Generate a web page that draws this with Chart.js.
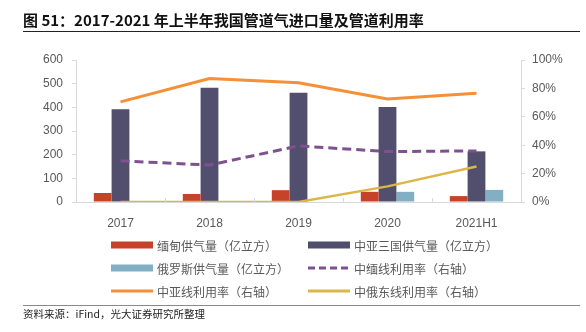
<!DOCTYPE html>
<html>
<head>
<meta charset="utf-8">
<script src="https://cdn.jsdelivr.net/npm/chart.js@4/dist/chart.umd.min.js"></script>
<style>
  html, body { margin: 0; padding: 0; background: #fff; }
  #wrap { position: relative; width: 586px; height: 332px; overflow: hidden;
          font-family: "Noto Sans CJK SC", "Noto Sans", sans-serif; }
  #chart { position: absolute; left: 0; top: 0; }
  #title { position: absolute; left: 23px; top: 10px; font-size: 15px; font-weight: bold;
           color: #111; white-space: nowrap; line-height: 20px; }
  #titleRule { position: absolute; left: 23px; top: 31px; width: 557px; height: 0;
               border-top: 1.5px solid #222; }
  #legend { position: absolute; left: 0; top: 0; width: 586px; height: 332px; pointer-events: none; }
  .item { position: absolute; display: flex; align-items: center; white-space: nowrap;
          font-size: 12px; color: #595959; height: 16px; }
  .item canvas { margin-right: 4px; }
  #srcRule { position: absolute; left: 23px; top: 305px; width: 557px; height: 0;
             border-top: 1.5px solid #8a8a8a; }
  #source { position: absolute; left: 23px; top: 306px; font-size: 10.5px; color: #222;
            white-space: nowrap; line-height: 16px; }
</style>
</head>
<body>
<div id="wrap">
  <canvas id="chart" width="586" height="332"></canvas>
  <div id="title">图 51：2017-2021 年上半年我国管道气进口量及管道利用率</div>
  <div id="titleRule"></div>
  <div id="legend"></div>
  <div id="srcRule"></div>
  <div id="source">资料来源：iFind，光大证券研究所整理</div>
</div>
<script>
// Categories and series (volumes in 亿立方, utilisation rates in %)
const categories = ['2017', '2018', '2019', '2020', '2021H1'];
const myanmarSupply = [38, 34, 50, 43, 25];
const centralAsiaSupply = [392, 483, 462, 401, 214];
const russiaSupply = [0, 0, 2, 43, 51];
const myanmarLineRate = [29, 26, 39.5, 35.5, 36];
const centralAsiaLineRate = [70.5, 87, 84, 72.5, 76.5];
const russiaEastLineRate = [0, 0, 0, 11, 25];
const leftTicks = [0, 100, 200, 300, 400, 500, 600];
const rightTicks = [0, 20, 40, 60, 80, 100];

const C = {
  red: '#C6432A', navy: '#524E6E', blue: '#82AFC3',
  purple: '#7E5190', orange: '#F68F36', yellow: '#DBB749'
};
const axisGrey = '#D9D9D9';
const tickFont = { family: '"Liberation Sans", Arial, sans-serif', size: 12 };

const datasets = [
  { type: 'bar', label: '缅甸供气量（亿立方）', data: myanmarSupply, backgroundColor: C.red,
    yAxisID: 'y', order: 2, legend: { kind: 'bar', color: C.red, col: 0, row: 0 } },
  { type: 'bar', label: '中亚三国供气量（亿立方）', data: centralAsiaSupply, backgroundColor: C.navy,
    yAxisID: 'y', order: 2, legend: { kind: 'bar', color: C.navy, col: 1, row: 0 } },
  { type: 'bar', label: '俄罗斯供气量（亿立方）', data: russiaSupply, backgroundColor: C.blue,
    yAxisID: 'y', order: 2, legend: { kind: 'bar', color: C.blue, col: 0, row: 1 } },
  { type: 'line', label: '中缅线利用率（右轴）', data: myanmarLineRate, borderColor: C.purple,
    borderWidth: 3, borderDash: [9, 5], pointRadius: 0, tension: 0, fill: false,
    yAxisID: 'y1', order: 1, legend: { kind: 'dash', color: C.purple, col: 1, row: 1 } },
  { type: 'line', label: '中亚线利用率（右轴）', data: centralAsiaLineRate, borderColor: C.orange,
    borderWidth: 3, pointRadius: 0, tension: 0, fill: false,
    yAxisID: 'y1', order: 1, legend: { kind: 'line', color: C.orange, col: 0, row: 2 } },
  { type: 'line', label: '中俄东线利用率（右轴）', data: russiaEastLineRate, borderColor: C.yellow,
    borderWidth: 2.5, pointRadius: 0, tension: 0, fill: false,
    yAxisID: 'y1', order: 0, legend: { kind: 'line', color: C.yellow, col: 1, row: 2 } }
];

// Small tick marks: category boundaries on the x axis point up into the plot
const boundaryTicks = {
  id: 'boundaryTicks',
  afterDraw(chart) {
    const { ctx } = chart;
    const x = chart.scales.x;
    const y0 = chart.chartArea.bottom;
    ctx.save();
    ctx.strokeStyle = axisGrey;
    ctx.lineWidth = 1;
    const n = categories.length;
    const step = (x.right - x.left) / n;
    for (let i = 0; i <= n; i++) {
      const px = Math.round(x.left + i * step) + 0.5;
      ctx.beginPath();
      ctx.moveTo(px, y0);
      ctx.lineTo(px, y0 - 4);
      ctx.stroke();
    }
    ctx.restore();
  }
};

new Chart(document.getElementById('chart'), {
  data: { labels: categories, datasets },
  options: {
    responsive: false,
    animation: false,
    events: [],
    layout: { padding: { left: 0, right: 0, top: 60, bottom: 100 } },
    plugins: { legend: { display: false }, tooltip: { enabled: false } },
    datasets: { bar: { categoryPercentage: 0.6, barPercentage: 1.0 } },
    scales: {
      x: {
        offset: true,
        grid: { display: false },
        border: { display: true, color: axisGrey, width: 1 },
        ticks: { color: '#595959', font: tickFont, padding: 6 },
        afterFit(s) { s.height = 30; }
      },
      y: {
        position: 'left',
        min: 0, max: 600,
        afterBuildTicks(s) { s.ticks = leftTicks.map(v => ({ value: v })); },
        grid: { drawOnChartArea: false, tickLength: 4, color: axisGrey },
        border: { display: true, color: axisGrey, width: 1 },
        ticks: { color: '#595959', font: tickFont, padding: 9 },
        afterFit(s) { s.width = 76; }
      },
      y1: {
        position: 'right',
        min: 0, max: 100,
        afterBuildTicks(s) { s.ticks = rightTicks.map(v => ({ value: v })); },
        grid: { drawOnChartArea: false, tickLength: 4, color: axisGrey },
        border: { display: true, color: axisGrey, width: 1 },
        ticks: { color: '#595959', font: tickFont, padding: 7, callback: v => v + '%' },
        afterFit(s) { s.width = 65; }
      }
    }
  },
  plugins: [boundaryTicks]
});

// Two-column legend built from the dataset definitions
const legendBox = document.getElementById('legend');
const colX = [111, 308];
const rowY = [237, 260, 283];
datasets.forEach(ds => {
  const L = ds.legend;
  const item = document.createElement('div');
  item.className = 'item';
  item.style.left = colX[L.col] + 'px';
  item.style.top = rowY[L.row] + 'px';
  const sw = document.createElement('canvas');
  sw.width = 42; sw.height = 10;
  const g = sw.getContext('2d');
  if (L.kind === 'bar') {
    g.fillStyle = L.color;
    g.fillRect(0, 1.5, 42, 7);
  } else {
    g.strokeStyle = L.color;
    g.lineWidth = 3;
    if (L.kind === 'dash') g.setLineDash([7, 4]);
    g.beginPath();
    g.moveTo(0, 5); g.lineTo(42, 5);
    g.stroke();
  }
  item.appendChild(sw);
  const t = document.createElement('span');
  t.textContent = ds.label;
  item.appendChild(t);
  legendBox.appendChild(item);
});
</script>
</body>
</html>
